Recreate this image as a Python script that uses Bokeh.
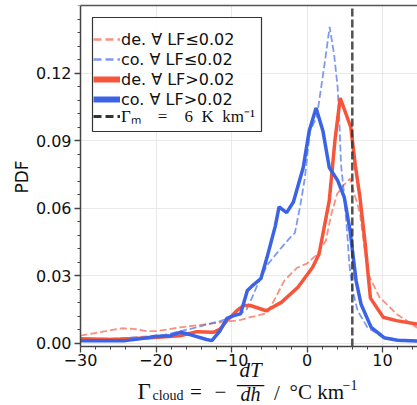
import math
from bokeh.plotting import figure
from bokeh.models import (Range1d, FixedTicker, CustomJSTickFormatter, Legend,
                          LegendItem, BoxAnnotation, Label, LinearAxis)
from bokeh.embed import file_html
from bokeh.resources import INLINE

nan = float("nan")

# ---------------- data ----------------
de_lo_x = [-30, -28, -26, -24.5, -23, -21.2, -19.9, -16.8, -12.4, -8.8, -7.5, -5.3, -4.2,
           -3.0, -1.3, -0.04, 1.2, 2.5, 3.2, 4.0, 4.8, 5.7, 6.3, 7.0, 7.5, 8.1, 9.6, 11.85,
           14.5, 16]
de_lo_y = [0.0033, 0.0045, 0.0058, 0.0066, 0.0063, 0.0053, 0.0053, 0.0070, 0.0088, 0.0103,
           0.0115, 0.0133, 0.0200, 0.0278, 0.0335, 0.0353, 0.0390, 0.0455, 0.0570, 0.0664,
           0.0700, 0.0731, 0.0660, 0.0580, 0.0450, 0.0308, 0.0204, 0.0130, 0.0070, 0.0058]
co_lo_x = [-30, -26, -23.4, -19, -15.6, -11.5, -8.8, -8.0, -7.3, -6.3, -5.2, -3.5, -2.2,
           -1.6, -0.9, -0.3, 0.4, 1.3, 2.2, 3.0, 3.6, 4.06, 4.28, 4.5, 4.95, 5.4, 5.6, 6.05,
           6.7, 8.0, 10, 12, 14.6, 16]
co_lo_y = [0.0018, 0.0020, 0.0024, 0.0036, 0.0062, 0.0098, 0.0130, 0.0150, 0.0200, 0.0280,
           0.0350, 0.0420, 0.0470, 0.0490, 0.0610, 0.0730, 0.0944, 0.1005, 0.1210, 0.1405,
           0.1280, 0.1136, 0.0988, 0.0796, 0.0648, 0.0455, 0.0352, 0.0233, 0.0144, 0.0070,
           0.0028, 0.0015, 0.0010, 0.0009]
de_hi_x = [-30, -25.7, -21.3, -16.8, -14.6, -12.4, -11.5, -10.6, -9.3, -8.4, -7.5, -5.4,
           -3.4, -1.2, 0.75, 1.6, 2.95, 3.7, 4.4, 5.8, 6.4, 7.0, 7.66, 8.4, 10.1, 11.85,
           14.5, 16]
de_hi_y = [0.0019, 0.0016, 0.0023, 0.0033, 0.0051, 0.0048, 0.0063, 0.0100, 0.0144, 0.0167,
           0.0167, 0.0144, 0.0181, 0.0248, 0.0337, 0.0396, 0.0633, 0.0900, 0.1089, 0.0959,
           0.0790, 0.0650, 0.0456, 0.0200, 0.0115, 0.0100, 0.0085, 0.0078]
co_hi_x = [-30, -27.4, -24.3, -21.9, -20.1, -18.1, -16.8, -15.5, -13.3, -12.6, -11.5, -10.6,
           -9.7, -8.8, -7.9, -7.3, -6.1, -5.3, -4.2, -3.7, -2.7, -1.8, -0.5, 0.3, 1.2, 2.1,
           2.95, 4.07, 4.94, 5.7, 6.5, 7.15, 8.5, 10.2, 12.0, 14.6, 16]
co_hi_y = [0.0011, 0.0010, 0.0010, 0.0020, 0.0029, 0.0033, 0.0048, 0.0038, 0.0016, 0.0011,
           0.0056, 0.0110, 0.0122, 0.0130, 0.0234, 0.0253, 0.0287, 0.0380, 0.0520, 0.0605,
           0.0580, 0.0627, 0.0780, 0.0944, 0.1045, 0.0944, 0.0780, 0.0722, 0.0648, 0.0500,
           0.0278, 0.0174, 0.0070, 0.0024, 0.0013, 0.0009, 0.0008]

gamma_m = 6  # K/km

legend_labels = ["de. \u2200 LF\u22640.02", "co. \u2200 LF\u22640.02",
                 "de. \u2200 LF>0.02", "co. \u2200 LF>0.02"]
gamma_label = "\u0393\u2098\u2003=\u20036\u2002K\u2002km\u207b\u00b9"
y_label = "PDF"
y_ticks = [0.0, 0.03, 0.06, 0.09, 0.12]
x_ticks = [-30, -20, -10, 0, 10]

# ---------------- layout ----------------
# The frame covers the whole canvas (below a 5 px top strip); axes are pinned
# with fixed_location so that every text is inside the frame.
W, H = 417, 405
AXX, FT, AXY = 80, 5, 346          # y-axis pixel column, frame top, x-axis pixel row
PXU = 7.55                          # pixels per x unit
X0 = -30
XL = X0 - AXX / PXU
XR = X0 + (W - AXX) / PXU
Y0, Y1 = -0.0015, 0.15
YB = Y0 - (H - AXY) / (AXY - FT) * (Y1 - Y0)

RED = "#f7553b"
BLUE = "#3b63e6"
AX = "#444444"

p = figure(width=W, height=H, output_backend="svg", toolbar_location=None,
           x_range=Range1d(XL, XR), y_range=Range1d(YB, Y1),
           min_border_left=0, min_border_right=0, min_border_top=FT,
           min_border_bottom=0)
p.outline_line_color = None


def sx(px):
    return XL + px / W * (XR - XL)


def sy(py):
    return Y1 - (py - FT) / (H - FT) * (Y1 - YB)


xt = FixedTicker(ticks=x_ticks, minor_ticks=list(range(-30, 16, 2)))
yt = FixedTicker(ticks=y_ticks, minor_ticks=[i * 0.006 for i in range(0, 26)])
p.xaxis.ticker = xt
p.yaxis.ticker = yt
p.xgrid.ticker = xt
p.ygrid.ticker = yt
p.xaxis.fixed_location = Y0
p.yaxis.fixed_location = X0
p.xaxis.bounds = (X0, XR)
p.yaxis.bounds = (Y0, Y1)
p.xaxis.formatter = CustomJSTickFormatter(
    code="return tick < 0 ? '\u2212' + Math.abs(tick) : String(tick);")
p.yaxis.formatter = CustomJSTickFormatter(code="return Math.abs(tick).toFixed(2);")

for ax in (p.xaxis, p.yaxis):
    ax.axis_line_color = AX
    ax.axis_line_width = 1.5
    ax.major_tick_line_color = AX
    ax.minor_tick_line_color = AX
    ax.major_tick_line_width = 1.3
    ax.minor_tick_line_width = 1
    ax.major_tick_out = 6
    ax.major_tick_in = 0
    ax.minor_tick_out = 3
    ax.minor_tick_in = 0
    ax.major_label_text_font = "DejaVu Sans"
    ax.major_label_text_font_size = "16px"
    ax.major_label_text_color = "#111111"

p.xaxis.major_label_standoff = 1
p.yaxis.major_label_standoff = 3

for g in (p.xgrid, p.ygrid):
    g.grid_line_color = "#e9e9e9"
    g.grid_line_width = 1

# white covers so grid lines stop at the axes
p.add_layout(BoxAnnotation(top=Y0, fill_color="white", fill_alpha=1, line_color=None,
                           level="underlay"))
p.add_layout(BoxAnnotation(right=X0, fill_color="white", fill_alpha=1, line_color=None,
                           level="underlay"))

top = LinearAxis(ticker=FixedTicker(ticks=[]), axis_line_color="#555555",
                 axis_line_width=1.5, major_tick_out=0, major_tick_in=0,
                 minor_tick_out=0, minor_tick_in=0, major_label_text_font_size="0px",
                 bounds=(X0, XR))
p.add_layout(top, "above")

# ---------------- curves ----------------
p.line(de_lo_x, de_lo_y, line_color=RED, line_alpha=0.65, line_width=1.8, line_dash="7 3")
p.line(co_lo_x, co_lo_y, line_color=BLUE, line_alpha=0.65, line_width=1.8, line_dash="7 3")
p.line(de_hi_x, de_hi_y, line_color=RED, line_width=3.5)
p.line(co_hi_x, co_hi_y, line_color=BLUE, line_width=3.5)

p.segment(x0=[gamma_m], y0=[Y0], x1=[gamma_m], y1=[Y1], line_color="#333333",
          line_alpha=0.85, line_width=2.5, line_dash="8 3")

# ---------------- legend ----------------
box = BoxAnnotation(left=sx(92), right=sx(261), top=sy(17), bottom=sy(131),
                    fill_color="white", fill_alpha=0.85, line_color="#333333",
                    line_width=1.2, line_alpha=1)
p.add_layout(box)

r1 = p.line([nan], [nan], line_color=RED, line_alpha=0.65, line_width=2.5, line_dash="8 4")
r2 = p.line([nan], [nan], line_color=BLUE, line_alpha=0.65, line_width=2.5, line_dash="8 4")
r3 = p.line([nan], [nan], line_color=RED, line_width=6)
r4 = p.line([nan], [nan], line_color=BLUE, line_width=6)
r5 = p.line([nan], [nan], line_color="#333333", line_width=3, line_dash="8 4")

common = dict(border_line_color=None, background_fill_alpha=0, padding=0, spacing=0,
              margin=0, glyph_width=27, glyph_height=20, label_height=20,
              label_standoff=1, label_text_color="#111111")
leg1 = Legend(items=[LegendItem(label=l, renderers=[r]) for l, r in
                     zip(legend_labels, [r1, r2, r3, r4])],
              location=(93, H - 109), label_text_font="DejaVu Sans",
              label_text_font_size="16px", **common)
common2 = dict(common, label_height=18, glyph_height=18)
leg2 = Legend(items=[LegendItem(label=gamma_label, renderers=[r5])],
              location=(93, H - 127), label_text_font="Liberation Serif",
              label_text_font_size="17px", **common2)
p.add_layout(leg1)
p.add_layout(leg2)

# ---------------- axis labels ----------------
p.add_layout(Label(x=sx(21), y=sy(176.5), text=y_label, angle=math.pi / 2,
                   text_font="DejaVu Sans", text_font_size="17px", text_align="center",
                   text_baseline="middle", text_color="#111111"))

SERIF = "Liberation Serif"


def lab(text, px, py, size, align="left", style="normal"):
    p.add_layout(Label(x=sx(px), y=sy(py), text=text, text_font=SERIF,
                       text_font_size=f"{size}px", text_align=align,
                       text_baseline="alphabetic", text_font_style=style,
                       text_color="#111111"))


lab("\u0393", 137, 391, 23)
lab("cloud", 152, 395, 14)
lab("=", 195.5, 391, 21, "center")
lab("\u2212", 220, 391, 21, "center")
lab("dT", 250, 369.5, 21, "center", "italic")
lab("\u2014", 250, 382, 27, "center")
lab("dh", 250, 393, 20, "center", "italic")
lab("/", 276.5, 392, 21, "center")
lab("\u00b0C km", 289, 391, 21)
lab("\u22121", 342, 384, 14)

open("out.html", "w").write(file_html(p, INLINE))
